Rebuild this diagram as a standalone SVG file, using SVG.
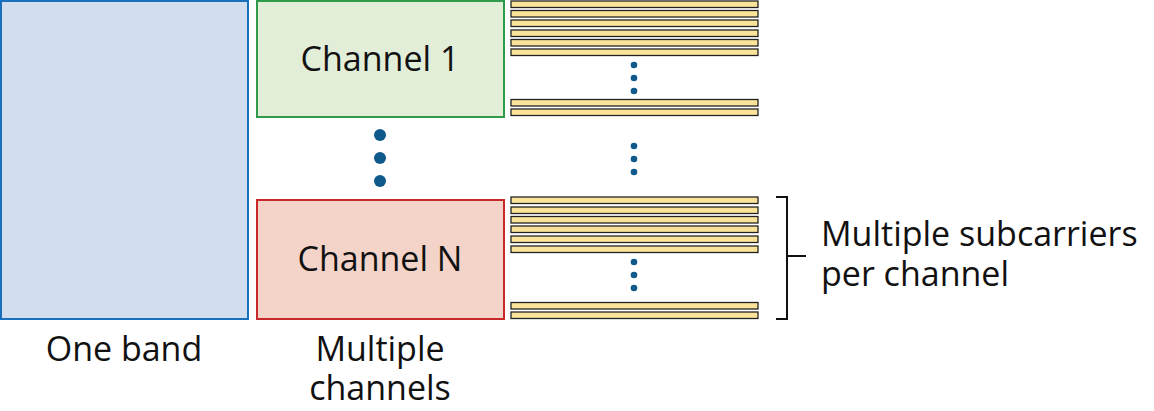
<svg xmlns="http://www.w3.org/2000/svg" width="1154" height="411" viewBox="0 0 1154 411">
<style>
text{font-family:"Open Sans","Liberation Sans",sans-serif;font-size:34px;fill:#111}
.bar{fill:#fbe49a;stroke:#222;stroke-width:1.3}
.d{fill:#0f5a8a}
</style>
<rect width="1154" height="411" fill="#fff"/>
<g id="band"><rect x="1" y="1" width="247" height="318" fill="#d3ddf0" stroke="#1a6fba" stroke-width="2"/></g>
<g id="channel1"><rect x="257" y="1" width="247" height="116" fill="#e3eed8" stroke="#2e9a4a" stroke-width="2"/><text x="380" y="71" text-anchor="middle">Channel 1</text></g>
<g id="channelN"><rect x="257" y="200" width="247" height="119" fill="#f4d4c8" stroke="#c8282a" stroke-width="2"/><text x="380" y="271" text-anchor="middle">Channel N</text></g>
<g id="chdots" class="d"><circle cx="380" cy="135" r="6"/><circle cx="380" cy="158" r="6"/><circle cx="380" cy="181" r="6"/></g>
<g id="subcarriers">
<rect class="bar" x="511" y="1" width="247" height="6.5"/>
<rect class="bar" x="511" y="10.5" width="247" height="6.5"/>
<rect class="bar" x="511" y="20" width="247" height="6.5"/>
<rect class="bar" x="511" y="30" width="247" height="6.5"/>
<rect class="bar" x="511" y="39.5" width="247" height="6.5"/>
<rect class="bar" x="511" y="49" width="247" height="6.5"/>
<rect class="bar" x="511" y="99.5" width="247" height="6.5"/>
<rect class="bar" x="511" y="109" width="247" height="6.5"/>
<rect class="bar" x="511" y="197" width="247" height="6.5"/>
<rect class="bar" x="511" y="207" width="247" height="6.5"/>
<rect class="bar" x="511" y="216.5" width="247" height="6.5"/>
<rect class="bar" x="511" y="226" width="247" height="6.5"/>
<rect class="bar" x="511" y="236" width="247" height="6.5"/>
<rect class="bar" x="511" y="246" width="247" height="6.5"/>
<rect class="bar" x="511" y="302.5" width="247" height="6.5"/>
<rect class="bar" x="511" y="312" width="247" height="6.5"/>
</g>
<g id="scdots" class="d">
<circle cx="634" cy="65" r="3.3"/><circle cx="634" cy="78" r="3.3"/><circle cx="634" cy="91" r="3.3"/>
<circle cx="634" cy="146" r="3.3"/><circle cx="634" cy="159" r="3.3"/><circle cx="634" cy="172" r="3.3"/>
<circle cx="634" cy="262" r="3.3"/><circle cx="634" cy="275" r="3.3"/><circle cx="634" cy="288" r="3.3"/>
</g>
<g id="connectors"><path d="M776 197H787V319H776M787 256H806" fill="none" stroke="#111" stroke-width="2"/></g>
<g id="labels">
<text x="124" y="361" text-anchor="middle">One band</text>
<text x="380" y="361" text-anchor="middle">Multiple</text>
<text x="380" y="400" text-anchor="middle">channels</text>
<text x="821" y="246">Multiple subcarriers</text>
<text x="821" y="286">per channel</text>
</g>
</svg>
